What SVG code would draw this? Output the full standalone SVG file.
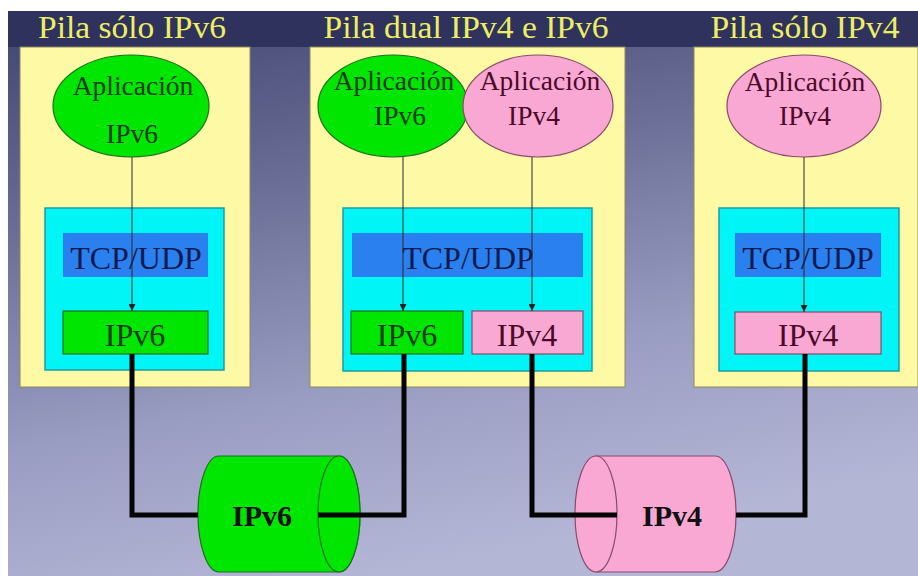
<svg xmlns="http://www.w3.org/2000/svg" width="918" height="576" viewBox="0 0 918 576">
<defs>
<linearGradient id="bg" x1="0" y1="0" x2="0.3" y2="1">
<stop offset="0" stop-color="#3f4470"/>
<stop offset="0.35" stop-color="#6a6d95"/>
<stop offset="0.7" stop-color="#9a9dc2"/>
<stop offset="1" stop-color="#b4b6d6"/>
</linearGradient>
<marker id="arr" viewBox="0 0 10 10" refX="10" refY="5" markerWidth="7" markerHeight="7" markerUnits="userSpaceOnUse" orient="auto">
<path d="M0,0 L10,5 L0,10 z" fill="#222"/>
</marker>
<style>
.title{font-family:"Liberation Serif","Times New Roman",serif;font-size:31px;fill:#eeee66;text-anchor:middle}
.lbl{font-family:"Liberation Serif","Times New Roman",serif;text-anchor:middle}
.app{font-size:27.5px}
.big{font-size:32px}
.cyl{font-size:30px;font-weight:bold;fill:#111}
.panel{fill:#fdf9a4;stroke:#8a8a60;stroke-width:1}
.stack{fill:#00f6f6;stroke:#209aa0;stroke-width:1.5}
.tcp{fill:#2a80ee}
.g{fill:#00e600;stroke:#1f6f1f;stroke-width:1.2}
.p{fill:#f9a8d4;stroke:#8a4a6a;stroke-width:1.2}
.gt{fill:#0a3a0a}
.pt{fill:#4a0a28}
.nt{fill:#0a1a50}
.thin{stroke:#2a2a2a;stroke-width:1;fill:none}
.thick{stroke:#050505;stroke-width:5;fill:none;stroke-linejoin:miter}
</style>
</defs>
<rect x="0" y="0" width="918" height="576" fill="#ffffff"/>
<rect x="8" y="11" width="930" height="580" rx="8" fill="url(#bg)"/>
<rect x="8" y="11" width="930" height="36" fill="#2e325c"/>
<text class="title" x="132" y="38" textLength="188" lengthAdjust="spacingAndGlyphs">Pila sólo IPv6</text>
<text class="title" x="466" y="38" textLength="285" lengthAdjust="spacingAndGlyphs">Pila dual IPv4 e IPv6</text>
<text class="title" x="805" y="38" textLength="189" lengthAdjust="spacingAndGlyphs">Pila sólo IPv4</text>

<g id="panel1">
<rect class="panel" x="20" y="47" width="230" height="340"/>
<rect class="stack" x="45" y="208" width="179" height="162"/>
</g>
<g id="panel2">
<rect class="panel" x="310" y="47" width="315" height="340"/>
<rect class="stack" x="343" y="208" width="249" height="163"/>
</g>
<g id="panel3">
<rect class="panel" x="694" y="47" width="224" height="340"/>
<rect class="stack" x="719" y="208" width="180" height="163"/>
</g>

<g id="app6a">
<ellipse class="g" cx="131" cy="106" rx="78" ry="51"/>
<text class="lbl app gt" x="133" y="95">Aplicación</text>
<text class="lbl app gt" x="132" y="143">IPv6</text>
</g>
<g id="app6b">
<ellipse class="g" cx="393" cy="106" rx="75" ry="51"/>
<text class="lbl app gt" x="394" y="90">Aplicación</text>
<text class="lbl app gt" x="400" y="125">IPv6</text>
</g>
<g id="app4b">
<ellipse class="p" cx="538" cy="106" rx="75" ry="51"/>
<text class="lbl app pt" x="540" y="90">Aplicación</text>
<text class="lbl app pt" x="534" y="125">IPv4</text>
</g>
<g id="app4c">
<ellipse class="p" cx="804" cy="106" rx="77" ry="51"/>
<text class="lbl app pt" x="805" y="91">Aplicación</text>
<text class="lbl app pt" x="805" y="125">IPv4</text>
</g>

<g id="tcp1">
<rect class="tcp" x="63" y="233" width="145" height="44"/>
<text class="lbl big nt" x="136" y="269">TCP/UDP</text>
</g>
<g id="tcp2">
<rect class="tcp" x="352" y="233" width="231" height="44"/>
<text class="lbl big nt" x="468" y="269">TCP/UDP</text>
</g>
<g id="tcp3">
<rect class="tcp" x="735" y="233" width="146" height="44"/>
<text class="lbl big nt" x="808" y="269">TCP/UDP</text>
</g>

<g id="ip6a">
<rect class="g" x="63" y="311" width="145" height="43"/>
<text class="lbl big gt" x="135" y="346">IPv6</text>
</g>
<g id="ip6b">
<rect class="g" x="351" y="311" width="112" height="43"/>
<text class="lbl big gt" x="407" y="346">IPv6</text>
</g>
<g id="ip4b">
<rect class="p" x="472" y="311" width="111" height="43"/>
<text class="lbl big pt" x="527" y="346">IPv4</text>
</g>
<g id="ip4c">
<rect class="p" x="735" y="312" width="146" height="42"/>
<text class="lbl big pt" x="808" y="346">IPv4</text>
</g>

<g id="net6">
<path class="g" d="M219,456 L339,456 A21,58 0 0 1 339,572 L219,572 A21,58 0 0 1 219,456 z"/>
<ellipse class="g" cx="339" cy="514" rx="21" ry="58"/>
<text class="lbl cyl" x="262" y="526">IPv6</text>
</g>
<g id="net4">
<path class="p" d="M596,456 L715,456 A21,58 0 0 1 715,572 L596,572 z"/>
<ellipse class="p" cx="596" cy="514" rx="21" ry="58"/>
<text class="lbl cyl" x="672" y="526">IPv4</text>
</g>

<g id="connectors">
<line class="thin" x1="132" y1="157" x2="132" y2="311" marker-end="url(#arr)"/>
<line class="thin" x1="403" y1="157" x2="403" y2="311" marker-end="url(#arr)"/>
<line class="thin" x1="532" y1="157" x2="532" y2="311" marker-end="url(#arr)"/>
<line class="thin" x1="804" y1="157" x2="804" y2="312" marker-end="url(#arr)"/>
<polyline class="thick" points="132,354 132,515 198,515"/>
<polyline class="thick" points="318,515 404,515 404,354"/>
<polyline class="thick" points="532,354 532,515 617,515"/>
<polyline class="thick" points="736,515 805,515 805,354"/>
</g>
</svg>
